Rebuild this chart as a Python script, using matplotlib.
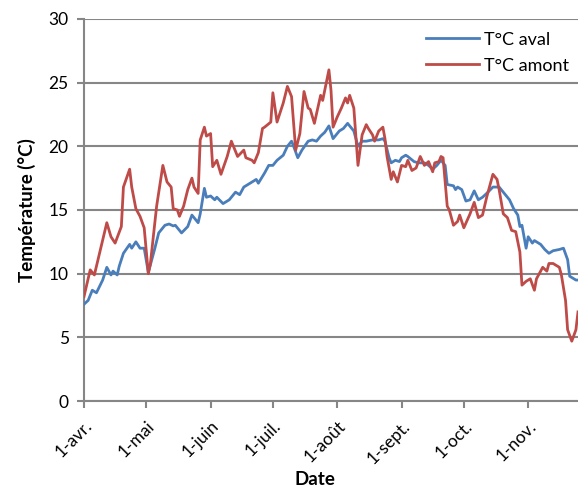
import numpy as np
import pandas as pd
import matplotlib
matplotlib.use('Agg')
import matplotlib.pyplot as plt
import matplotlib.dates as mdates

plt.rcParams['font.family'] = ['Lato', 'DejaVu Sans']

# jours comptes a partir du 1er avril
debut = pd.Timestamp('2013-04-01')

jours_aval = [0, 2, 4, 6, 9, 11, 13, 14, 16, 17, 19, 22, 23, 25, 27, 29, 31, 34, 36, 39,
              41, 43, 44, 46, 47, 50, 52, 55, 56, 58, 59, 61, 63, 64, 67, 70, 73, 75, 77, 80,
              83, 84, 87, 89, 91, 93, 96, 98, 100, 101, 103, 105, 108, 110, 112, 114, 116, 118, 120, 123,
              125, 127, 128, 130, 132, 134, 136, 139, 142, 144, 145, 147, 148, 150, 152, 153, 155, 156, 159, 161,
              164, 166, 168, 170, 172, 174, 175, 178, 179, 180, 182, 184, 186, 188, 190, 192, 194, 197, 200, 202,
              205, 207, 209, 210, 211, 213, 214, 216, 217, 220, 222, 224, 226, 229, 231, 233, 234, 237, 238]
t_aval = [7.6, 7.9, 8.7, 8.5, 9.5, 10.5, 9.9, 10.2, 9.9, 10.6, 11.6, 12.3, 12.0, 12.5, 12.0, 12.0, 10.1, 11.9, 13.2, 13.8,
          13.9, 13.75, 13.8, 13.4, 13.2, 13.7, 14.6, 14.0, 14.7, 16.7, 16.0, 16.1, 15.8, 16.0, 15.5, 15.8, 16.4, 16.2, 16.8, 17.1,
          17.4, 17.1, 17.9, 18.5, 18.5, 18.9, 19.3, 20.0, 20.4, 20.0, 19.1, 19.7, 20.4, 20.5, 20.4, 20.8, 21.1, 21.6, 20.6, 21.2,
          21.4, 21.8, 21.6, 21.2, 20.0, 20.4, 20.4, 20.5, 20.5, 20.6, 20.4, 19.1, 18.7, 18.9, 18.8, 19.1, 19.3, 19.2, 18.8, 18.7,
          18.7, 18.5, 18.2, 18.5, 18.9, 18.5, 17.0, 16.9, 16.6, 16.8, 16.6, 15.7, 15.8, 16.5, 15.8, 16.0, 16.3, 16.8, 16.8, 16.4,
          15.8, 15.1, 14.6, 13.7, 13.8, 12.0, 12.9, 12.4, 12.6, 12.3, 11.9, 11.6, 11.8, 11.9, 12.0, 11.1, 9.8, 9.5, 9.5]

jours_amont = [0, 3, 5, 11, 13, 15, 18, 19, 22, 23, 25, 27, 29, 31, 32, 35, 38, 40, 42, 43,
               45, 46, 48, 50, 52, 53, 55, 56, 58, 59, 61, 62, 64, 66, 69, 71, 74, 77, 78, 81,
               82, 84, 86, 87, 90, 91, 93, 96, 98, 100, 102, 104, 106, 108, 109, 111, 114, 115, 118, 119,
               120, 122, 124, 125, 126, 127, 128, 130, 132, 134, 136, 137, 139, 140, 142, 144, 145, 146, 148, 149,
               151, 153, 155, 156, 158, 160, 162, 164, 166, 168, 169, 171, 172, 173, 175, 176, 178, 180, 181, 183,
               186, 188, 190, 192, 194, 197, 199, 200, 202, 204, 206, 208, 210, 211, 213, 215, 217, 218, 221, 223,
               224, 226, 229, 230, 232, 233, 235, 237, 238]
t_amont = [8.2, 10.3, 9.9, 14.0, 12.9, 12.4, 13.7, 16.8, 18.2, 16.8, 15.1, 14.5, 13.6, 10.0, 10.8, 15.3, 18.5, 17.2, 16.8, 15.1,
           15.0, 14.5, 15.3, 16.6, 17.5, 16.8, 16.3, 20.5, 21.5, 20.8, 21.0, 18.4, 18.9, 17.8, 19.2, 20.4, 19.2, 19.7, 19.1, 18.9,
           18.7, 19.5, 21.4, 21.5, 21.9, 24.2, 21.9, 23.4, 24.7, 23.9, 19.7, 21.0, 24.3, 23.0, 22.9, 21.8, 24.0, 23.6, 26.0, 24.4,
           21.5, 22.3, 23.0, 23.4, 23.8, 23.4, 24.0, 23.0, 18.5, 20.9, 21.7, 21.4, 20.9, 20.4, 21.2, 21.5, 20.6, 19.2, 17.4, 18.0,
           17.2, 18.5, 18.4, 18.9, 18.1, 18.3, 19.2, 18.5, 18.8, 18.0, 18.7, 18.8, 19.2, 19.1, 15.3, 15.0, 13.8, 14.1, 14.6, 13.6,
           14.7, 15.6, 14.4, 14.6, 16.0, 17.8, 17.4, 16.6, 14.7, 14.4, 13.4, 13.3, 11.7, 9.1, 9.4, 9.6, 8.7, 9.6, 10.5, 10.2,
           10.8, 10.8, 10.5, 9.9, 7.9, 5.6, 4.7, 5.6, 7.0]

mois = ['2013-04-01', '2013-05-01', '2013-06-01', '2013-07-01',
        '2013-08-01', '2013-09-01', '2013-10-01', '2013-11-01']
noms_mois = ['1-avr.', '1-mai', '1-juin', '1-juil.', '1-août', '1-sept.', '1-oct.', '1-nov.']

dates_aval = debut + pd.to_timedelta(jours_aval, unit='D')
dates_amont = debut + pd.to_timedelta(jours_amont, unit='D')

bleu = '#4A7EBB'
rouge = '#BE4B48'
gris = '#868686'

fig = plt.figure(figsize=(5.78, 4.97), dpi=100)
ax = fig.add_axes([0.1453, 0.193, 0.8547, 0.769])

ax.plot(dates_aval, t_aval, color=bleu, lw=2.0, label='T°C aval', zorder=3)
ax.plot(dates_amont, t_amont, color=rouge, lw=2.0, label='T°C amont', zorder=3)

ax.set_ylim(0, 30)
ax.set_yticks(np.arange(0, 31, 5))
ax.set_xlim(debut, debut + pd.Timedelta(days=238))
ax.set_xticks(pd.to_datetime(mois))
ax.set_xticklabels(noms_mois, rotation=45, ha='right', rotation_mode='anchor')

ax.grid(axis='y', color=gris, lw=1.5)
ax.set_axisbelow(True)
for cote in ['top', 'right']:
    ax.spines[cote].set_visible(False)
for cote in ['left', 'bottom']:
    ax.spines[cote].set_color(gris)
    ax.spines[cote].set_linewidth(1.5)
ax.tick_params(axis='both', colors=gris, length=5, width=1.5, labelsize=12.5, labelcolor='black')
ax.tick_params(axis='x', pad=7)
ax.tick_params(axis='y', pad=6)

ax.set_xlabel('Date', fontsize=13.5, fontweight='bold')
ax.xaxis.set_label_coords((315 - 84) / 494, -0.183)
ax.set_ylabel('Température (°C)', fontsize=13.5, fontweight='bold')
ax.yaxis.set_label_coords(-0.097, 0.5)

leg = ax.legend(loc='upper right', frameon=False, fontsize=13, handlelength=2.9,
                handletextpad=0.3, bbox_to_anchor=(1.0, 0.99), labelspacing=0.55,
                borderaxespad=0.1)

fig.savefig('out.png', dpi=100)
